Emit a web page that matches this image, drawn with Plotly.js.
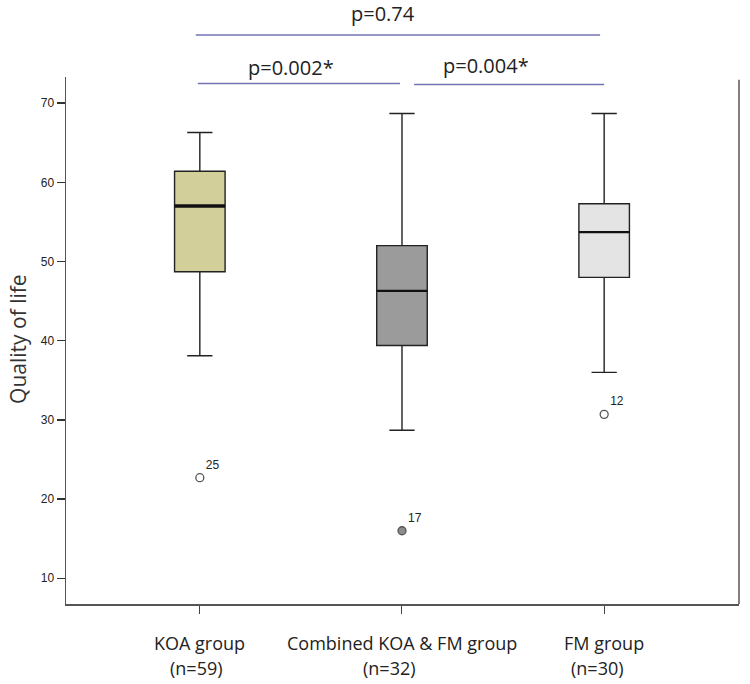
<!DOCTYPE html>
<html>
<head>
<meta charset="utf-8">
<script src="https://cdn.plot.ly/plotly-3.0.1.min.js"></script>
<style>html,body{margin:0;padding:0;background:#fff;}#chart{width:750px;height:684px;}</style>
</head>
<body>
<div id="chart"></div>
<script>
// ---- data ----
const categories = ["KOA group", "Combined KOA & FM group", "FM group"];
const nLabels = ["(n=59)", "(n=32)", "(n=30)"];
const lowerWhisker = [38.1, 28.7, 36.0];
const q1Values = [48.7, 39.4, 48.0];
const medianValues = [57.0, 46.3, 53.7];
const q3Values = [61.4, 52.0, 57.3];
const upperWhisker = [66.3, 68.7, 68.7];
const outlierValues = [22.7, 16.0, 30.7];
const outlierLabels = ["25", "17", "12"];
const pTexts = ["p=0.74", "p=0.002*", "p=0.004*"];
const pPairs = [[0, 2], [0, 1], [1, 2]];
const yTickVals = [10, 20, 30, 40, 50, 60, 70];

// ---- styles ----
const boxFill = ["#d3cf9b", "#9b9b9b", "#e4e4e4"];
const outlierFill = ["#ffffff", "#8c8c8c", "#ffffff"];
const medianWidth = [3.5, 2.2, 2.2];
const nLabelShift = [-3, -12, -7];
const pLineSpan = [[-0.02, 1.98], [-0.01, 0.99], [1.06, 2.0]];
const pLineY = [1.0797, 0.9877, 0.9858];
const pTextX = [0.907, 0.451, 1.414];
const pTextY = [1.121, 1.018, 1.022];

const traces = [];
categories.forEach((c, i) => {
  traces.push({
    type: "box",
    x: [c],
    q1: [q1Values[i]],
    median: [medianValues[i]],
    q3: [q3Values[i]],
    lowerfence: [lowerWhisker[i]],
    upperfence: [upperWhisker[i]],
    boxpoints: false,
    width: 0.25,
    whiskerwidth: 0.5,
    fillcolor: boxFill[i],
    line: { color: "#222", width: 1.4 },
    hoverinfo: "skip",
    showlegend: false
  });
  traces.push({
    type: "scatter",
    mode: "markers+text",
    x: [c],
    y: [outlierValues[i]],
    text: [outlierLabels[i]],
    textposition: "top right",
    textfont: { family: "Arial, Liberation Sans", size: 12, color: "#222" },
    marker: { size: 8, color: outlierFill[i], line: { color: "#555", width: 1.3 } },
    cliponaxis: false,
    hoverinfo: "skip",
    showlegend: false
  });
});

const shapes = [];
// median emphasis lines
categories.forEach((c, i) => {
  shapes.push({
    type: "line", xref: "x", yref: "y",
    x0: i - 0.125, x1: i + 0.125, y0: medianValues[i], y1: medianValues[i],
    line: { color: "#111", width: medianWidth[i] }
  });
});
// right frame line
shapes.push({ type: "line", xref: "paper", yref: "paper", x0: 1, x1: 1, y0: 0, y1: 0.995,
  line: { color: "#555", width: 1.5 } });
// significance lines
pPairs.forEach((p, k) => {
  shapes.push({
    type: "line", xref: "x", yref: "paper",
    x0: pLineSpan[k][0], x1: pLineSpan[k][1], y0: pLineY[k], y1: pLineY[k],
    line: { color: "#7373b5", width: 1.5 }
  });
});

const annotations = [];
categories.forEach((c, i) => {
  annotations.push({ xref: "x", yref: "paper", x: i, y: -0.074, text: c, showarrow: false,
    xanchor: "center", yanchor: "middle",
    font: { family: "Open Sans", size: 18, color: "#222" } });
  annotations.push({ xref: "x", yref: "paper", x: i, y: -0.1214, text: nLabels[i], showarrow: false,
    xanchor: "center", yanchor: "middle", xshift: nLabelShift[i],
    font: { family: "Open Sans", size: 18, color: "#222" } });
});
pTexts.forEach((t, k) => {
  annotations.push({ xref: "x", yref: "paper", x: pTextX[k], y: pTextY[k], text: t, showarrow: false,
    xanchor: "center", yanchor: "middle",
    font: { family: "Open Sans", size: 20, color: "#222" } });
});
annotations.push({ xref: "paper", yref: "paper", x: -0.0713, y: 0.503, text: "Quality of life",
  textangle: -90, showarrow: false, xanchor: "center", yanchor: "middle",
  font: { family: "Open Sans", size: 21, color: "#333" } });

const layout = {
  width: 750, height: 684,
  margin: { l: 66, r: 11, t: 77, b: 80 },
  paper_bgcolor: "#fff", plot_bgcolor: "#fff",
  boxmode: "overlay",
  showlegend: false,
  xaxis: {
    type: "category", categoryorder: "array", categoryarray: categories,
    range: [-0.662, 2.667], showticklabels: false,
    ticks: "outside", ticklen: 8, tickwidth: 1, tickcolor: "#444",
    showline: true, linecolor: "#555", linewidth: 1.5,
    showgrid: false, zeroline: false
  },
  yaxis: {
    range: [6.75, 73.3], tickvals: yTickVals,
    ticks: "outside", ticklen: 8, tickwidth: 1.3, tickcolor: "#333",
    tickfont: { family: "Arial, Liberation Sans", size: 12, color: "#222" },
    showline: true, linecolor: "#555", linewidth: 1.5,
    showgrid: false, zeroline: false
  },
  shapes: shapes,
  annotations: annotations
};

Plotly.newPlot("chart", traces, layout, { staticPlot: true, displayModeBar: false });
</script>
</body>
</html>
